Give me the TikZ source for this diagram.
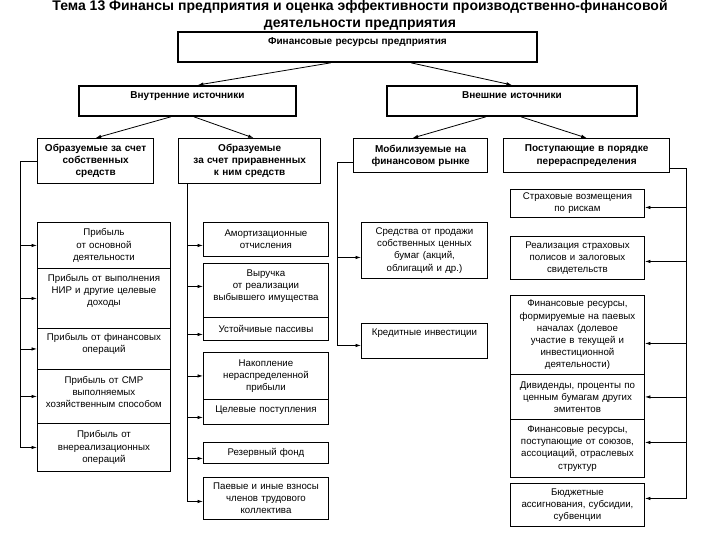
\documentclass[tikz,border=0pt]{standalone}
\usepackage{fontspec}
\setmainfont{Liberation Sans}
\usetikzlibrary{arrows.meta}

\tikzset{
  box/.style={draw, line width=0.9pt, anchor=north west, align=center, inner sep=1pt,
    font=\fontsize{9.7}{12.2}\selectfont},
  head/.style={box, line width=1.3pt, font=\fontsize{10}{12.2}\selectfont\bfseries},
  main/.style={box, line width=1.8pt, font=\fontsize{10}{12.2}\selectfont\bfseries},
  arr/.style={-{Latex[length=5.5pt,width=3.5pt]}, line width=0.8pt},
}

\begin{document}
\begin{tikzpicture}[x=1pt, y=-1pt]
\path[use as bounding box, fill=white] (0,0) rectangle (720,540);

\node[font=\fontsize{14}{17}\selectfont\bfseries, align=center, anchor=north, inner sep=0pt] (title) at (360,0)
  {Тема 13 Финансы предприятия и оценка эффективности производственно-финансовой\\деятельности предприятия};

% top levels
\node[main, text width=357pt, minimum height=30pt, text height=12pt, text depth=16pt] (fin) at (177,31) {Финансовые ресурсы предприятия};
\node[main, text width=215pt, minimum height=30pt, text height=12pt, text depth=16pt] (vnut) at (78,85) {Внутренние источники};
\node[main, text width=248pt, minimum height=30pt, text height=12pt, text depth=16pt] (vnesh) at (386,85) {Внешние источники};

\node[head, text width=114pt, minimum height=45pt] (own) at (37,138) {Образуемые за счет\\собственных\\средств};
\node[head, text width=140pt, minimum height=45pt] (equiv) at (178,138) {Образуемые\\за счет приравненных\\к ним средств};
\node[head, text width=132pt, minimum height=34pt] (market) at (353,138) {Мобилизуемые на\\финансовом рынке};
\node[head, text width=164pt, minimum height=34pt] (redis) at (503,138) {Поступающие в порядке\\перераспределения};

\draw[arr] ([xshift=-26.5pt]fin.south) -- ([xshift=10.5pt]vnut.north);
\draw[arr] ([xshift=53.5pt]fin.south) -- (vnesh.north);
\draw[arr] ([xshift=-16.5pt]vnut.south) -- (own.north);
\draw[arr] ([xshift=6.5pt]vnut.south) -- ([xshift=4pt]equiv.north);
\draw[arr] ([xshift=-26pt]vnesh.south) -- ([xshift=-8pt]market.north);
\draw[arr] ([xshift=9pt]vnesh.south) -- (redis.north);

% own funds
\node[box, text width=131pt, minimum height=46pt] (l1) at (37,222) {Прибыль\\от основной\\деятельности};
\node[box, text width=131pt, minimum height=60pt, text height=12pt, text depth=46pt] (l2) at (37,268) {Прибыль от выполнения\\НИР и другие целевые\\доходы};
\node[box, text width=131pt, minimum height=41pt, text height=11pt, text depth=28pt] (l3) at (37,328) {Прибыль от финансовых\\операций};
\node[box, text width=131pt, minimum height=54pt, text height=13pt, text depth=39pt] (l4) at (37,369) {Прибыль от СМР\\выполняемых\\хозяйственным способом};
\node[box, text width=131pt, minimum height=48pt] (l5) at (37,423) {Прибыль от\\внереализационных\\операций};

\draw[arr] (own.west) -- ++(-17,0) |- (l5.west);
\foreach \n in {l1,l2,l3,l4}
  \draw[arr] ([xshift=-17pt]\n.west) -- (\n.west);

% equivalent funds
\node[box, text width=123pt, minimum height=34pt] (m1) at (203,222) {Амортизационные\\отчисления};
\node[box, text width=123pt, minimum height=54pt, text height=12pt, text depth=40pt] (m2) at (203,263) {Выручка\\от реализации\\выбывшего имущества};
\node[box, text width=123pt, minimum height=23pt] (m3) at (203,317) {Устойчивые пассивы};
\node[box, text width=123pt, minimum height=47pt] (m4) at (203,352) {Накопление\\нераспределенной\\прибыли};
\node[box, text width=123pt, minimum height=25pt, text height=12pt, text depth=11pt] (m5) at (203,399) {Целевые поступления};
\node[box, text width=123pt, minimum height=21pt] (m6) at (203,442) {Резервный фонд};
\node[box, text width=123pt, minimum height=42pt] (m7) at (203,477) {Паевые и иные взносы\\членов трудового\\коллектива};

\draw[arr] ([xshift=9pt]equiv.south west) |- ([yshift=-3pt]m7.west);
\foreach \n/\d in {m1/-6,m2/4,m3/-5.5,m4/0,m5/-5.5,m6/-5.5}
  \draw[arr] ([xshift=-16pt,yshift=\d pt]\n.west) -- ([yshift=\d pt]\n.west);

% financial market
\node[box, text width=124pt, minimum height=56pt] (s1) at (361,222) {Средства от продажи\\собственных ценных\\бумаг (акций,\\облигаций и др.)};
\node[box, text width=124pt, minimum height=35pt, text height=11pt, text depth=22pt] (s2) at (361,323) {Кредитные инвестиции};

\draw[arr] ([yshift=-7pt]market.west) -- ++(-16,0) |- ([yshift=-4.5pt]s2.west);
\draw[arr] ([xshift=-24pt,yshift=-7pt]s1.west) -- ([yshift=-7pt]s1.west);

% redistribution
\node[box, text width=132pt, minimum height=28pt] (r1) at (510,189) {Страховые возмещения\\по рискам};
\node[box, text width=132pt, minimum height=43pt] (r2) at (510,236) {Реализация страховых\\полисов и залоговых\\свидетельств};
\node[box, text width=132pt, minimum height=79pt] (r3) at (510,295) {Финансовые ресурсы,\\формируемые на паевых\\началах (долевое\\участие в текущей и\\инвестиционной\\деятельности)};
\node[box, text width=132pt, minimum height=45pt] (r4) at (510,374) {Дивиденды, проценты по\\ценным бумагам других\\эмитентов};
\node[box, text width=132pt, minimum height=58pt] (r5) at (510,419) {Финансовые ресурсы,\\поступающие от союзов,\\ассоциаций, отраслевых\\структур};
\node[box, text width=132pt, minimum height=43pt] (r6) at (510,483) {Бюджетные\\ассигнования, субсидии,\\субвенции};

\draw[arr] ([yshift=-13pt]redis.east) -- ++(16,0) |- ([yshift=6.5pt]r6.east);
\foreach \n/\d in {r1/-4,r2/-3.5,r3/-8.5,r4/0,r5/6}
  \draw[arr] ([xshift=41pt,yshift=\d pt]\n.east) -- ([yshift=\d pt]\n.east);

\end{tikzpicture}
\end{document}
